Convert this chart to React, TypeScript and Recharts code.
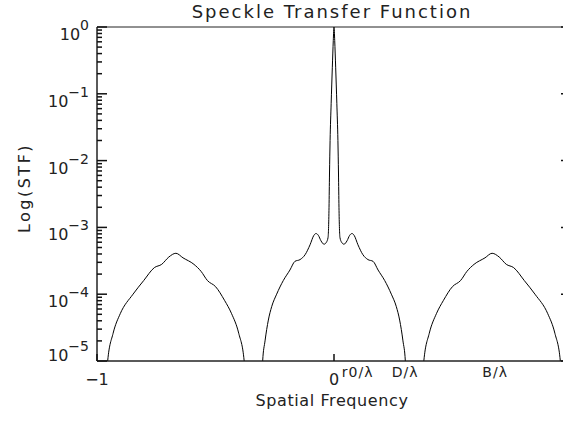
import React from 'react';
import { LineChart, Line, XAxis, YAxis, ReferenceArea } from 'recharts';

// Spatial frequency samples and STF values
const freqLeftLobe = [-1.0, -0.96, -0.955, -0.932, -0.902, -0.848, -0.803, -0.758, -0.727, -0.697, -0.667, -0.637, -0.591, -0.561, -0.534, -0.5, -0.462, -0.432, -0.402, -0.379, -0.374];
const stfLeftLobe = [1e-6, 1e-6, 1.0e-5, 2.6e-5, 5.1e-5, 1.0e-4, 1.6e-4, 2.5e-4, 2.8e-4, 3.6e-4, 4.1e-4, 3.5e-4, 2.8e-4, 2.2e-4, 1.6e-4, 1.3e-4, 8.1e-5, 5.1e-5, 2.6e-5, 1.0e-5, 1e-6];

const freqCentral = [-0.306, -0.301, -0.291, -0.277, -0.263, -0.242, -0.214, -0.186, -0.165, -0.143, -0.122, -0.101, -0.085, -0.076, -0.066, -0.055, -0.042, -0.032, -0.025, -0.021, -0.019, -0.0165, -0.012, -0.007, -0.003, 0, 0.003, 0.007, 0.012, 0.0165, 0.019, 0.021, 0.025, 0.032, 0.042, 0.055, 0.066, 0.076, 0.085, 0.101, 0.122, 0.143, 0.165, 0.186, 0.214, 0.242, 0.263, 0.277, 0.291, 0.301, 0.306];
const stfCentral = [1e-6, 1.0e-5, 2.0e-5, 4.1e-5, 6.5e-5, 1.0e-4, 1.6e-4, 2.3e-4, 3.1e-4, 3.3e-4, 3.9e-4, 5.5e-4, 7.6e-4, 8.1e-4, 7.6e-4, 6.3e-4, 5.6e-4, 6.0e-4, 7.1e-4, 2.0e-3, 6.3e-3, 2.0e-2, 7.1e-2, 0.25, 0.63, 1, 0.63, 0.25, 7.1e-2, 2.0e-2, 6.3e-3, 2.0e-3, 7.1e-4, 6.0e-4, 5.6e-4, 6.3e-4, 7.6e-4, 8.1e-4, 7.6e-4, 5.5e-4, 3.9e-4, 3.3e-4, 3.1e-4, 2.3e-4, 1.6e-4, 1.0e-4, 6.5e-5, 4.1e-5, 2.0e-5, 1.0e-5, 1e-6];

const freqRightLobe = [0.374, 0.379, 0.402, 0.432, 0.462, 0.5, 0.534, 0.561, 0.591, 0.637, 0.667, 0.697, 0.727, 0.758, 0.803, 0.848, 0.902, 0.932, 0.955, 0.96, 1.0];
const stfRightLobe = [1e-6, 1.0e-5, 2.6e-5, 5.1e-5, 8.1e-5, 1.3e-4, 1.6e-4, 2.2e-4, 2.8e-4, 3.5e-4, 4.1e-4, 3.6e-4, 2.8e-4, 2.5e-4, 1.6e-4, 1.0e-4, 5.1e-5, 2.6e-5, 1.0e-5, 1e-6, 1e-6];

// Axis ticks
const xTickValues = [-1, 0, 0.1, 0.3, 0.68];
const xTickLabels = ['\u22121', '0', 'r0/\u03bb', 'D/\u03bb', 'B/\u03bb'];
const xTickHasMark = [true, true, false, false, false];
const xTickRaised = [false, false, true, true, true];

const yMajorTicks = [1, 0.1, 0.01, 0.001, 0.0001, 0.00001];
const yMajorExponents = ['0', '\u22121', '\u22122', '\u22123', '\u22124', '\u22125'];
const yMinorFactors = [2, 3, 4, 5, 6, 7, 8, 9];

const yTicks: number[] = [];
yMajorTicks.forEach((m) => {
  yTicks.push(m);
  if (m < 1) yMinorFactors.forEach((f) => yTicks.push(+(m * f).toPrecision(3)));
});
yTicks.sort((a, b) => a - b);

const build = (xs: number[], ys: number[]) => xs.map((f, i) => ({ f, s: ys[i] }));
const data = [
  ...build(freqLeftLobe, stfLeftLobe),
  ...build(freqCentral, stfCentral),
  ...build(freqRightLobe, stfRightLobe),
];

const FONT = '"DejaVu Sans", Verdana, sans-serif';
const INK = '#222';
const TICK_INK = '#111';
const TICK_W = 1.5;
const Y_DOMAIN: [number, number] = [1e-5, 1];

const majorIndex = (v: number) => {
  for (let i = 0; i < yMajorTicks.length; i++) {
    if (Math.abs(yMajorTicks[i] - v) < yMajorTicks[i] * 1e-6) return i;
  }
  return -1;
};

const LeftTick = (props: any) => {
  const { x, y, payload } = props;
  const idx = majorIndex(payload.value);
  const len = idx >= 0 ? 10 : 5;
  const isBottom = idx === yMajorTicks.length - 1;
  const x0 = Number(x);
  const y0 = Number(y);
  return (
    <g>
      <path d={`M${x0},${y0}L${x0 + len},${y0}`} stroke={TICK_INK} strokeWidth={TICK_W} fill="none" />
      {idx >= 0 && (
        <text x={x0 - 8} y={isBottom ? y0 : y0 + 13} textAnchor="end" fontFamily={FONT} fontSize={16} fill={INK}>
          <tspan>10</tspan>
          <tspan dy={-10} fontSize={14}>{yMajorExponents[idx]}</tspan>
        </text>
      )}
    </g>
  );
};

const RightTick = (props: any) => {
  const { x, y, payload } = props;
  const idx = majorIndex(payload.value);
  const len = idx >= 0 ? 10 : 5;
  const x0 = Number(x);
  const y0 = Number(y);
  return <path d={`M${x0},${y0}L${x0 - len},${y0}`} stroke={TICK_INK} strokeWidth={TICK_W} fill="none" />;
};

const XTick = (props: any) => {
  const { x, y, payload } = props;
  const idx = xTickValues.indexOf(payload.value);
  if (idx < 0) return null;
  const raised = xTickRaised[idx];
  const x0 = Number(x);
  const y0 = Number(y);
  return (
    <g>
      {xTickHasMark[idx] && <path d={`M${x0},${y0}L${x0},${y0 - 7}`} stroke={TICK_INK} strokeWidth={TICK_W} fill="none" />}
      <text
        x={x0}
        y={raised ? y0 + 16 : y0 + 24}
        textAnchor="middle"
        fontFamily={FONT}
        fontSize={raised ? 14 : 16}
        letterSpacing={raised ? 1 : 0}
        fill={INK}
      >
        {xTickLabels[idx]}
      </text>
    </g>
  );
};

const textStyle: React.CSSProperties = {
  position: 'absolute',
  fontFamily: FONT,
  color: INK,
  whiteSpace: 'nowrap',
  lineHeight: 1,
};

export default function App() {
  return (
    <div style={{ position: 'absolute', left: 0, top: 0, width: 563, height: 421, overflow: 'hidden', background: '#fff' }}>
      <LineChart width={582} height={421} data={data} margin={{ top: 27, right: 11, bottom: 30, left: 0 }}>
        <XAxis
          dataKey="f"
          type="number"
          domain={[-1, 1]}
          ticks={xTickValues}
          interval={0}
          tick={<XTick />}
          tickLine={false}
          tickSize={0}
          tickMargin={0}
          height={30}
          axisLine={{ stroke: INK, strokeWidth: 1 }}
        />
        <YAxis
          type="number"
          scale="log"
          domain={Y_DOMAIN}
          allowDataOverflow
          ticks={yTicks}
          interval={0}
          tick={<LeftTick />}
          tickLine={false}
          tickSize={0}
          tickMargin={0}
          width={97}
          axisLine={{ stroke: INK, strokeWidth: 1 }}
        />
        <YAxis
          yAxisId="right"
          orientation="right"
          mirror
          type="number"
          scale="log"
          domain={Y_DOMAIN}
          allowDataOverflow
          ticks={yTicks}
          interval={0}
          tick={<RightTick />}
          tickLine={false}
          tickSize={0}
          tickMargin={0}
          axisLine={{ stroke: INK, strokeWidth: 1 }}
        />
        <ReferenceArea x1={-1} x2={1} y1={1e-5} y2={1} fill="none" fillOpacity={0} stroke={INK} strokeWidth={1} ifOverflow="visible" />
        <Line dataKey="s" type="monotone" stroke="#000" strokeWidth={1} dot={false} isAnimationActive={false} />
      </LineChart>
      <div style={{ ...textStyle, left: 0, width: 664, top: 3, fontSize: 18, letterSpacing: 2, textAlign: 'center' }}>
        Speckle Transfer Function
      </div>
      <div style={{ ...textStyle, left: 0, width: 664, top: 393, fontSize: 16, letterSpacing: 0.6, textAlign: 'center' }}>
        Spatial Frequency
      </div>
      <div
        style={{
          ...textStyle,
          left: 25,
          top: 188,
          fontSize: 16,
          letterSpacing: 2.5,
          transform: 'translate(-50%, -50%) rotate(-90deg)',
          transformOrigin: 'center',
        }}
      >
        Log(STF)
      </div>
    </div>
  );
}
